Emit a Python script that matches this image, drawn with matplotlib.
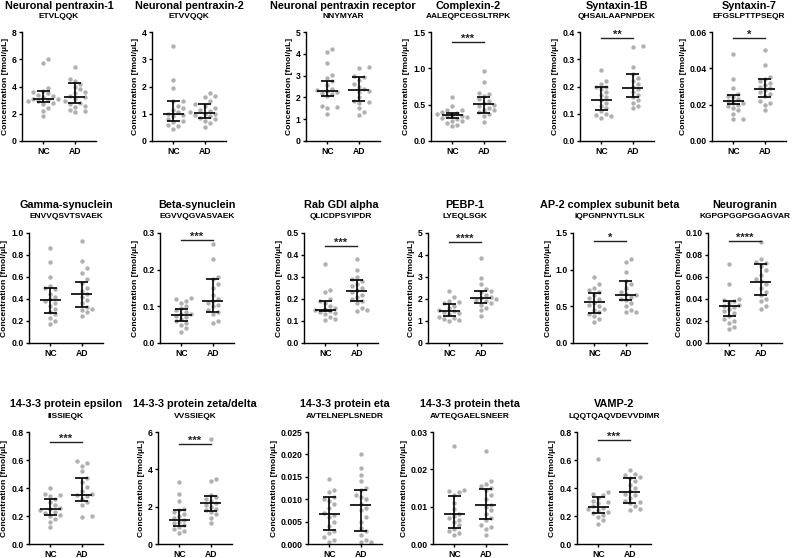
import numpy as np
import matplotlib
matplotlib.use("Agg")
import matplotlib.pyplot as plt

plt.rcParams['font.family'] = ['Liberation Sans', 'DejaVu Sans']
plt.rcParams['font.weight'] = 'bold'
plt.rcParams['axes.labelweight'] = 'bold'

# panel titles and peptides
names = ["Neuronal pentraxin-1", "Neuronal pentraxin-2", "Neuronal pentraxin receptor",
         "Complexin-2", "Syntaxin-1B", "Syntaxin-7",
         "Gamma-synuclein", "Beta-synuclein", "Rab GDI alpha", "PEBP-1",
         "AP-2 complex subunit beta", "Neurogranin",
         "14-3-3 protein epsilon", "14-3-3 protein zeta/delta", "14-3-3 protein eta",
         "14-3-3 protein theta", "VAMP-2"]
peptides = ["ETVLQQK", "ETVVQQK", "NNYMYAR", "AALEQPCEGSLTRPK", "QHSAILAAPNPDEK",
            "EFGSLPTTPSEQR", "ENVVQSVTSVAEK", "EGVVQGVASVAEK", "QLICDPSYIPDR", "LYEQLSGK",
            "IQPGNPNYTLSLK", "KGPGPGGPGGAGVAR", "IISSIEQK", "VVSSIEQK", "AVTELNEPLSNEDR",
            "AVTEQGAELSNEER", "LQQTQAQVDEVVDIMR"]

groups = ["NC", "AD"]

nc_vals = [
    [6.0, 5.7, 3.9, 3.7, 3.6, 3.5, 3.4, 3.3, 3.2, 3.1, 3.05, 3.0, 2.9, 2.9, 2.8, 2.7, 2.4, 2.2, 1.8],
    [3.5, 2.25, 1.95, 1.45, 1.45, 1.3, 1.15, 1.05, 1.0, 0.95, 0.9, 0.8, 0.75, 0.7, 0.6, 0.55, 0.45, 1.2],
    [4.2, 4.1, 3.6, 3.05, 2.9, 2.75, 2.55, 2.4, 2.3, 2.25, 2.2, 2.15, 2.05, 1.6, 1.55, 1.5, 1.25, 2.35],
    [0.61, 0.48, 0.43, 0.42, 0.4, 0.38, 0.37, 0.36, 0.35, 0.34, 0.33, 0.32, 0.3, 0.28, 0.27, 0.25, 0.22, 0.2],
    [0.26, 0.22, 0.21, 0.2, 0.2, 0.19, 0.18, 0.17, 0.16, 0.15, 0.14, 0.13, 0.12, 0.11, 0.1, 0.095, 0.09, 0.085],
    [0.048, 0.034, 0.029, 0.026, 0.025, 0.024, 0.023, 0.022, 0.021, 0.021, 0.02, 0.019, 0.018, 0.017, 0.015, 0.012, 0.012],
    [0.86, 0.74, 0.6, 0.52, 0.5, 0.49, 0.45, 0.42, 0.4, 0.38, 0.36, 0.34, 0.31, 0.28, 0.26, 0.23, 0.2, 0.17],
    [0.124, 0.12, 0.115, 0.11, 0.1, 0.095, 0.09, 0.085, 0.08, 0.078, 0.075, 0.07, 0.065, 0.06, 0.055, 0.05, 0.04, 0.03],
    [0.36, 0.24, 0.23, 0.2, 0.19, 0.18, 0.17, 0.16, 0.155, 0.15, 0.145, 0.14, 0.135, 0.13, 0.12, 0.11, 0.105],
    [2.35, 2.1, 1.9, 1.85, 1.8, 1.7, 1.6, 1.5, 1.45, 1.4, 1.35, 1.3, 1.2, 1.15, 1.1, 1.05, 1.0],
    [0.9, 0.8, 0.75, 0.72, 0.7, 0.65, 0.62, 0.6, 0.55, 0.52, 0.5, 0.47, 0.45, 0.42, 0.4, 0.37, 0.33, 0.28],
    [0.072, 0.054, 0.04, 0.039, 0.038, 0.036, 0.035, 0.034, 0.033, 0.031, 0.029, 0.027, 0.025, 0.022, 0.02, 0.018, 0.015, 0.013],
    [0.4, 0.36, 0.35, 0.34, 0.32, 0.3, 0.28, 0.26, 0.25, 0.24, 0.23, 0.22, 0.21, 0.2, 0.18, 0.16, 0.12],
    [3.3, 2.7, 2.3, 1.9, 1.8, 1.7, 1.6, 1.5, 1.4, 1.3, 1.2, 1.1, 1.0, 0.9, 0.8, 0.7, 0.6],
    [0.0145, 0.012, 0.0115, 0.0105, 0.01, 0.0095, 0.009, 0.008, 0.007, 0.0065, 0.006, 0.005, 0.004, 0.003, 0.0025, 0.0015, 0.001, 0.0005],
    [0.0263, 0.0145, 0.0143, 0.0138, 0.013, 0.011, 0.0095, 0.008, 0.0075, 0.007, 0.0065, 0.006, 0.005, 0.004, 0.0035, 0.003, 0.0025],
    [0.61, 0.37, 0.36, 0.35, 0.33, 0.31, 0.3, 0.29, 0.27, 0.26, 0.25, 0.24, 0.23, 0.22, 0.21, 0.19, 0.17, 0.14],
]
ad_vals = [
    [5.4, 4.55, 4.4, 4.2, 4.0, 3.8, 3.6, 3.5, 3.3, 3.2, 3.1, 2.9, 2.8, 2.7, 2.6, 2.5, 2.3, 2.2, 2.1],
    [1.75, 1.65, 1.6, 1.45, 1.35, 1.3, 1.2, 1.15, 1.1, 1.05, 1.0, 1.0, 0.95, 0.9, 0.85, 0.8, 0.75, 0.65, 0.5],
    [3.4, 3.35, 3.0, 2.95, 2.8, 2.6, 2.5, 2.4, 2.3, 2.25, 2.0, 1.85, 1.8, 1.75, 1.5, 1.35, 1.2],
    [0.97, 0.81, 0.66, 0.64, 0.62, 0.58, 0.55, 0.52, 0.5, 0.48, 0.46, 0.43, 0.42, 0.4, 0.37, 0.35, 0.26],
    [0.35, 0.345, 0.27, 0.245, 0.23, 0.22, 0.21, 0.2, 0.19, 0.18, 0.17, 0.16, 0.15, 0.14, 0.13, 0.12],
    [0.05, 0.042, 0.035, 0.034, 0.033, 0.032, 0.031, 0.03, 0.029, 0.028, 0.027, 0.026, 0.025, 0.022, 0.021, 0.02, 0.017],
    [0.93, 0.75, 0.68, 0.64, 0.58, 0.55, 0.5, 0.47, 0.45, 0.42, 0.39, 0.36, 0.33, 0.31, 0.3, 0.28, 0.25],
    [0.27, 0.23, 0.18, 0.175, 0.16, 0.15, 0.13, 0.12, 0.115, 0.11, 0.105, 0.1, 0.09, 0.085, 0.08, 0.06, 0.055],
    [0.38, 0.33, 0.3, 0.29, 0.28, 0.27, 0.26, 0.25, 0.24, 0.23, 0.22, 0.21, 0.2, 0.19, 0.18, 0.16, 0.15, 0.145],
    [3.85, 2.95, 2.7, 2.45, 2.35, 2.3, 2.2, 2.1, 2.05, 2.0, 1.95, 1.9, 1.8, 1.75, 1.6, 1.5, 1.25],
    [1.15, 1.1, 0.97, 0.85, 0.8, 0.75, 0.7, 0.67, 0.65, 0.63, 0.6, 0.58, 0.55, 0.5, 0.45, 0.42, 0.42],
    [0.092, 0.076, 0.074, 0.073, 0.07, 0.066, 0.062, 0.058, 0.056, 0.054, 0.05, 0.046, 0.044, 0.04, 0.038, 0.034, 0.031],
    [0.59, 0.58, 0.56, 0.52, 0.47, 0.44, 0.41, 0.38, 0.36, 0.35, 0.34, 0.32, 0.3, 0.28, 0.2, 0.19],
    [5.6, 3.5, 3.4, 2.6, 2.5, 2.4, 2.3, 2.2, 2.1, 2.0, 1.9, 1.8, 1.7, 1.6, 1.4, 1.1],
    [0.02, 0.017, 0.0155, 0.014, 0.0125, 0.012, 0.011, 0.0105, 0.01, 0.009, 0.008, 0.0075, 0.006, 0.005, 0.0035, 0.003, 0.002, 0.001, 0.0005, 0.0005],
    [0.0248, 0.0168, 0.016, 0.0155, 0.015, 0.0145, 0.013, 0.012, 0.0105, 0.01, 0.009, 0.008, 0.007, 0.0065, 0.005, 0.0045, 0.004, 0.0025],
    [0.53, 0.5, 0.49, 0.48, 0.47, 0.45, 0.42, 0.4, 0.38, 0.36, 0.35, 0.33, 0.31, 0.3, 0.29, 0.27, 0.25, 0.24],
]

# median and interquartile range
nc_med = [3.05, 1.0, 2.3, 0.36, 0.152, 0.0218, 0.39, 0.077, 0.152, 1.45, 0.555, 0.034, 0.247, 1.3, 0.0068, 0.008, 0.262]
nc_lo = [2.85, 0.75, 2.05, 0.31, 0.112, 0.0205, 0.27, 0.06, 0.145, 1.25, 0.41, 0.0245, 0.21, 0.97, 0.0032, 0.0042, 0.22]
nc_hi = [3.65, 1.45, 2.75, 0.39, 0.198, 0.0255, 0.5, 0.094, 0.193, 1.78, 0.68, 0.0385, 0.322, 1.8, 0.0104, 0.0128, 0.337]
ad_med = [3.2, 1.03, 2.35, 0.505, 0.195, 0.0288, 0.45, 0.115, 0.237, 2.05, 0.655, 0.0555, 0.35, 2.2, 0.0088, 0.0105, 0.375]
ad_lo = [2.78, 0.85, 1.83, 0.385, 0.16, 0.024, 0.325, 0.085, 0.19, 1.82, 0.59, 0.044, 0.31, 1.78, 0.003, 0.0067, 0.295]
ad_hi = [4.25, 1.37, 2.95, 0.6, 0.245, 0.034, 0.555, 0.175, 0.285, 2.38, 0.845, 0.072, 0.472, 2.58, 0.012, 0.0148, 0.472]

ymax = [8, 4, 5, 1.5, 0.4, 0.06, 1.0, 0.3, 0.5, 5, 1.5, 0.1, 0.8, 6, 0.025, 0.03, 0.8]
ystep = [2, 1, 1, 0.5, 0.1, 0.02, 0.2, 0.1, 0.1, 1, 0.5, 0.02, 0.2, 2, 0.005, 0.01, 0.2]
ydec = [0, 0, 0, 1, 1, 2, 1, 1, 1, 0, 1, 2, 1, 0, 3, 2, 1]

stars = ["", "", "", "***", "**", "*", "", "***", "***", "****", "*", "****", "***", "***", "", "", "***"]
star_y = [0, 0, 0, 1.36, 0.378, 0.0568, 0, 0.282, 0.44, 4.6, 1.39, 0.093, 0.73, 5.37, 0, 0, 0.742]

# layout in pixels: left spine x, axes top, axes bottom
lefts = [22, 152, 306, 431, 580, 712,
         29, 160, 304, 428, 573, 708,
         29, 158, 308, 433, 577]
row_top = [32, 233, 432]
row_bot = [141, 343, 544]
row_of = [0] * 6 + [1] * 6 + [2] * 5

W, H = 800, 558
AX_W = 74
X_PX = 31.0  # pixels per category unit


def swarm(vals, px_per_unit, r=5.2, step=5.0):
    # spread overlapping points sideways (layout only)
    vals = np.asarray(vals, dtype=float)
    offs = np.zeros(len(vals))
    placed = []
    for i in np.argsort(vals):
        y = vals[i] * px_per_unit
        for k in [0, 1, -1, 2, -2, 3, -3, 4, -4, 5, -5]:
            x = k * step
            if all((x - a) ** 2 + (y - b) ** 2 >= r * r for a, b in placed):
                break
        placed.append((x, y))
        offs[i] = x / X_PX
    return offs


fig = plt.figure(figsize=(W / 100, H / 100), dpi=100)
grey = '#b0b0b0'

for p in range(17):
    row = row_of[p]
    top, bot = row_top[row], row_bot[row]
    ax = fig.add_axes([lefts[p] / W, 1 - bot / H, AX_W / W, (bot - top) / H])
    ypx = (bot - top) / ymax[p]

    for gi, (vals, med, lo, hi) in enumerate([(nc_vals[p], nc_med[p], nc_lo[p], nc_hi[p]),
                                               (ad_vals[p], ad_med[p], ad_lo[p], ad_hi[p])]):
        xs = gi + swarm(vals, ypx)
        ax.scatter(xs, vals, s=10, color=grey, linewidths=0, zorder=2, clip_on=False)
        ax.hlines(med, gi - 0.33, gi + 0.33, color='black', lw=1.2, zorder=3)
        ax.vlines(gi, lo, hi, color='black', lw=1.2, zorder=3)
        ax.hlines([lo, hi], gi - 0.2, gi + 0.2, color='black', lw=1.2, zorder=3)

    if stars[p]:
        ax.plot([0, 1], [star_y[p], star_y[p]], color='#222222', lw=1.0, clip_on=False)
        ax.annotate(stars[p], (0.5, star_y[p]), xytext=(0, -1.5), textcoords='offset points',
                    ha='center', va='bottom', fontsize=8, fontweight='bold',
                    color='#222222', annotation_clip=False)

    ax.set_xlim(-0.67, 1.67)
    ax.set_ylim(0, ymax[p])
    ticks = np.arange(0, ymax[p] + ystep[p] / 2, ystep[p])
    ax.set_yticks(ticks)
    ax.set_yticklabels([f"{t:.{ydec[p]}f}" for t in ticks], fontweight='bold')
    ax.set_xticks([0, 1])
    ax.set_xticklabels(groups, fontweight='bold')
    ax.tick_params(labelsize=6.2, width=1.0, length=2.5, pad=1.5)
    ax.tick_params(axis='x', pad=2)
    for s in ['top', 'right']:
        ax.spines[s].set_visible(False)
    for s in ['left', 'bottom']:
        ax.spines[s].set_linewidth(1.0)
    ax.set_ylabel("Concentration [fmol/µL]", fontsize=6.1, fontweight='bold', labelpad=2)

    cx = (lefts[p] + AX_W / 2) / W
    t_y = top - 26 if row == 0 else top - 28
    fig.text(cx, 1 - t_y / H, names[p], ha='center', va='center', fontsize=7.8, fontweight='bold')
    fig.text(cx, 1 - (top - 16) / H, peptides[p], ha='center', va='center', fontsize=6.0,
             fontweight='bold')

fig.savefig("out.png", dpi=100)
